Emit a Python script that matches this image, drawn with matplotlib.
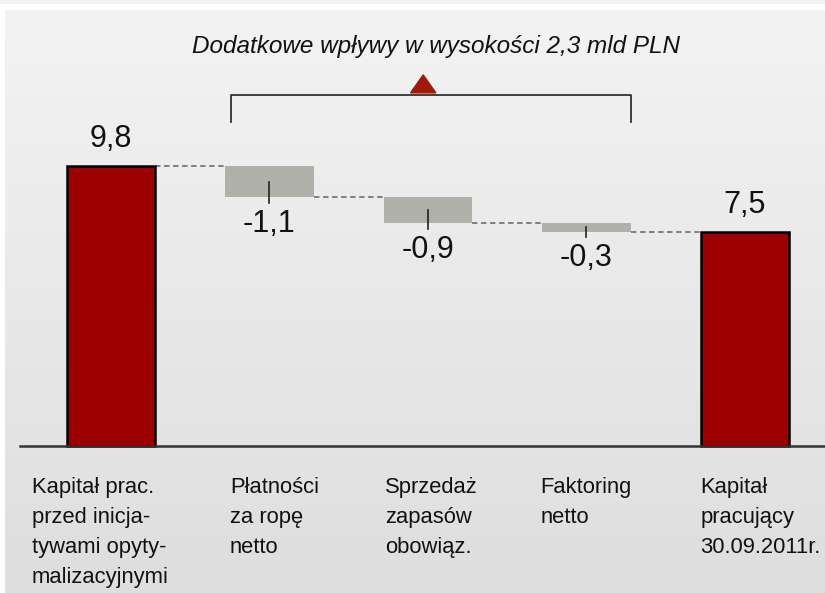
import numpy as np
import matplotlib
matplotlib.use("Agg")
import matplotlib.pyplot as plt
from matplotlib.patches import Polygon

plt.rcParams['font.family'] = ['Liberation Sans Narrow', 'Liberation Sans', 'DejaVu Sans']

# data
categories = ["Kapitał prac.\nprzed inicja-\ntywami opyty-\nmalizacyjnymi",
              "Płatności\nza ropę\nnetto",
              "Sprzedaż\nzapasów\nobowiąz.",
              "Faktoring\nnetto",
              "Kapitał\npracujący\n30.09.2011r."]
values = [9.8, -1.1, -0.9, -0.3, 7.5]
is_total = [True, False, False, False, True]
value_labels = ["9,8", "-1,1", "-0,9", "-0,3", "7,5"]
title = "Dodatkowe wpływy w wysokości 2,3 mld PLN"

# layout
label_x = [-0.50, 0.75, 1.73, 2.71, 3.72]
bar_w = 0.56
RED = "#9c0000"
GRAY = "#b0b0aa"

fig = plt.figure(figsize=(8.25, 5.93), dpi=100)
fig.patch.set_facecolor("white")

# background panel with a soft vertical gradient
bg = fig.add_axes([5 / 825, 0, 1 - 5 / 825, 1 - 10 / 593])
grad = np.linspace(0, 1, 256).reshape(-1, 1)
bg.imshow(grad, aspect="auto", cmap=matplotlib.colors.LinearSegmentedColormap.from_list(
    "g", ["#f3f3f3", "#dedede"]), extent=[0, 1, 0, 1], origin="upper")
bg.axis("off")
strip = fig.add_axes([0, 1 - 4 / 593, 1, 4 / 593])
strip.axis("off")
strip.add_patch(plt.Rectangle((0, 0), 1, 1, color="#f2f2f2", transform=strip.transAxes))

ax = fig.add_axes([0, 0, 1, 1])
ax.patch.set_alpha(0)
ax.set_xlim(-0.700, 4.505)
ax.set_ylim(-5.145, 15.61)
ax.axis("off")

x = np.arange(len(values))
bottoms = []
tops = []
running = 0.0
for v, tot in zip(values, is_total):
    if tot:
        bottoms.append(0.0)
        tops.append(v)
        running = v
    else:
        bottoms.append(running + v)
        tops.append(running)
        running += v

for i, (v, tot) in enumerate(zip(values, is_total)):
    h = tops[i] - bottoms[i]
    if tot:
        ax.bar(x[i], h, bar_w, bottom=bottoms[i], color=RED, edgecolor="black",
               linewidth=1.8, zorder=3)
        ax.text(x[i], tops[i] + 0.42, value_labels[i], ha="center", va="bottom",
                fontsize=22, color="#111111")
    else:
        ax.bar(x[i], h, bar_w, bottom=bottoms[i], color=GRAY, linewidth=0, zorder=3)
        mid = (tops[i] + bottoms[i]) / 2
        ax.plot([x[i], x[i]], [mid, bottoms[i] - 0.2], color="#222222", lw=1.2, zorder=4)
        ax.text(x[i], bottoms[i] - 0.4, value_labels[i], ha="center", va="top",
                fontsize=22, color="#111111")

# dashed connectors
for i in range(len(values) - 1):
    level = bottoms[i] if not is_total[i] else tops[i]
    ax.plot([x[i] + bar_w / 2, x[i + 1] - bar_w / 2], [level, level],
            color="#777777", lw=1.3, ls=(0, (3, 2)), zorder=2)

# baseline
ax.plot([-0.574, 4.505], [0, 0], color="#333333", lw=1.8, zorder=4)

# category labels
for lx, lab in zip(label_x, categories):
    ax.text(lx, -1.1, lab, ha="left", va="top", fontsize=15.8,
            color="#111111", linespacing=1.55)

# bracket over the adjustments
bl = x[1] - bar_w / 2 + 0.04
br = x[3] + bar_w / 2
ax.plot([bl, bl, br, br], [11.34, 12.29, 12.29, 11.34], color="#222222", lw=1.2)
cx = (x[1] + x[3]) / 2 - 0.03
ax.add_patch(Polygon([[cx - 0.08, 12.36], [cx + 0.08, 12.36], [cx, 12.99]],
                     closed=True, color="#a01a0a", zorder=5))
ax.text(cx + 0.08, 13.97, title, ha="center", va="center", fontsize=17.5, style="italic",
        color="#111111")

fig.savefig("out.png", dpi=100)
